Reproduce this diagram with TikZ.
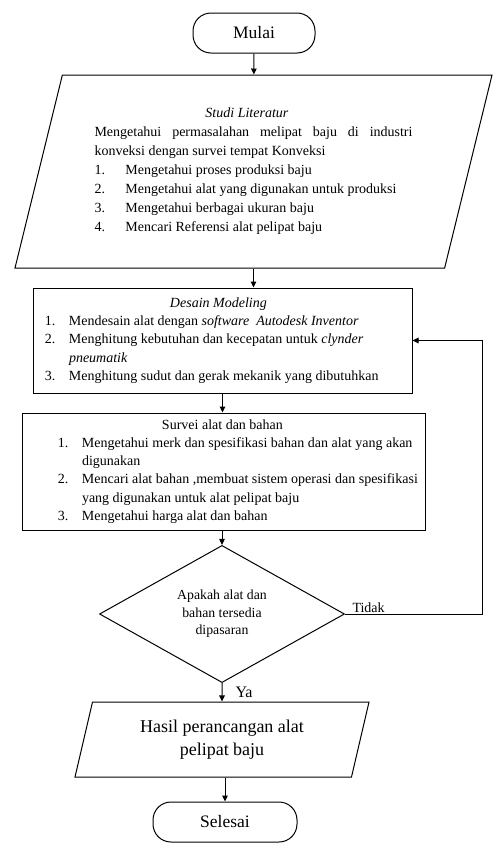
\documentclass[tikz,border=0pt]{standalone}
\usepackage{fontspec}
\setmainfont{Liberation Serif}
\usetikzlibrary{shapes.geometric,arrows.meta}

\begin{document}
\begin{tikzpicture}[x=1pt,y=-1pt,
  ujung/.style={draw,line width=1pt,rounded corners=18pt,minimum height=40pt,
                font=\fontsize{17.5}{21}\selectfont},
  jajar/.style={draw,line width=1pt,trapezium,trapezium stretches body,inner sep=0pt},
  kotak/.style={draw,line width=1pt,rectangle,inner sep=0pt,align=justify,
                font=\fontsize{14}{18.2}\selectfont},
  cabang/.style={draw,line width=1pt,diamond,inner sep=0pt,align=center,
                 font=\fontsize{13.8}{17.5}\selectfont},
  panah/.style={-{Stealth[length=6pt,width=5.5pt,inset=0pt]},line width=1pt},
  ket/.style={inner sep=1pt}]
  \useasboundingbox (0,0) rectangle (493,844);
  % terminal atas
  \node[ujung,minimum width=122pt] (mulai) at (254,33) {Mulai};
  % studi literatur
  \node[jajar,trapezium left angle=69.5,trapezium right angle=110.5,
        minimum width=477pt,minimum height=193pt,text width=318pt,align=justify,
        font=\fontsize{14}{19}\selectfont] (studi) at (253.5,171.5)
    {\hspace*{111pt}\textit{Studi Literatur}\\
     Mengetahui permasalahan melipat baju di industri\linebreak
     konveksi dengan survei tempat Konveksi\\
     \makebox[31pt][l]{1.}Mengetahui proses produksi baju\\
     \makebox[31pt][l]{2.}Mengetahui alat yang digunakan untuk produksi\\
     \makebox[31pt][l]{3.}Mengetahui berbagai ukuran baju\\
     \makebox[31pt][l]{4.}Mencari Referensi alat pelipat baju};
  % desain
  \node[kotak,minimum width=379pt,minimum height=105pt,text width=379pt] (desain) at (222.5,340.5)
    {\hspace*{137pt}\textit{Desain Modeling}\\
     \hspace*{12pt}\makebox[24pt][l]{1.}Mendesain alat dengan \textit{software\ \ Autodesk Inventor}\\
     \hspace*{12pt}\makebox[24pt][l]{2.}Menghitung kebutuhan dan kecepatan untuk \textit{clynder}\\
     \hspace*{36pt}\textit{pneumatik}\\
     \hspace*{12pt}\makebox[24pt][l]{3.}Menghitung sudut dan gerak mekanik yang dibutuhkan};
  % survei
  \node[kotak,minimum width=403pt,minimum height=117pt,text width=403pt] (survei) at (223.5,471.5)
    {\hspace*{140pt}Survei alat dan bahan\\
     \hspace*{36pt}\makebox[24pt][l]{1.}Mengetahui merk dan spesifikasi bahan dan alat yang akan\\
     \hspace*{60pt}digunakan\\
     \hspace*{36pt}\makebox[24pt][l]{2.}Mencari alat bahan ,membuat sistem operasi dan spesifikasi\\
     \hspace*{60pt}yang digunakan untuk alat pelipat baju\\
     \hspace*{36pt}\makebox[24pt][l]{3.}Mengetahui harga alat dan bahan};
  % keputusan
  \node[cabang,minimum width=245pt,minimum height=126pt] (cek) at (222,614)
    {Apakah alat dan\\ bahan tersedia\\ dipasaran};
  % hasil
  \node[jajar,trapezium left angle=66,trapezium right angle=114,
        minimum width=294pt,minimum height=75pt,align=center,
        font=\fontsize{18}{23}\selectfont] (hasil) at (222,739.5)
    {Hasil perancangan alat\\ pelipat baju};
  % terminal bawah
  \node[ujung,minimum width=144pt] (selesai) at (225,822) {Selesai};

  \draw[panah] (mulai) -- (studi);
  \draw[panah] (studi) -- (studi |- desain.north);
  \draw[panah] (desain) -- (desain |- survei.north);
  \draw[panah] (cek |- survei.south) -- (cek);
  \draw[panah] (cek) -- node[ket,right=12pt,font=\fontsize{16}{18}\selectfont] {Ya} (hasil);
  \draw[panah] (selesai |- hasil.south) -- (selesai);
  \draw[panah] (cek.east) node[ket,above right,xshift=6pt,font=\fontsize{14}{16}\selectfont] {Tidak}
    -- ++(137,0) |- (desain.east);
\end{tikzpicture}
\end{document}
